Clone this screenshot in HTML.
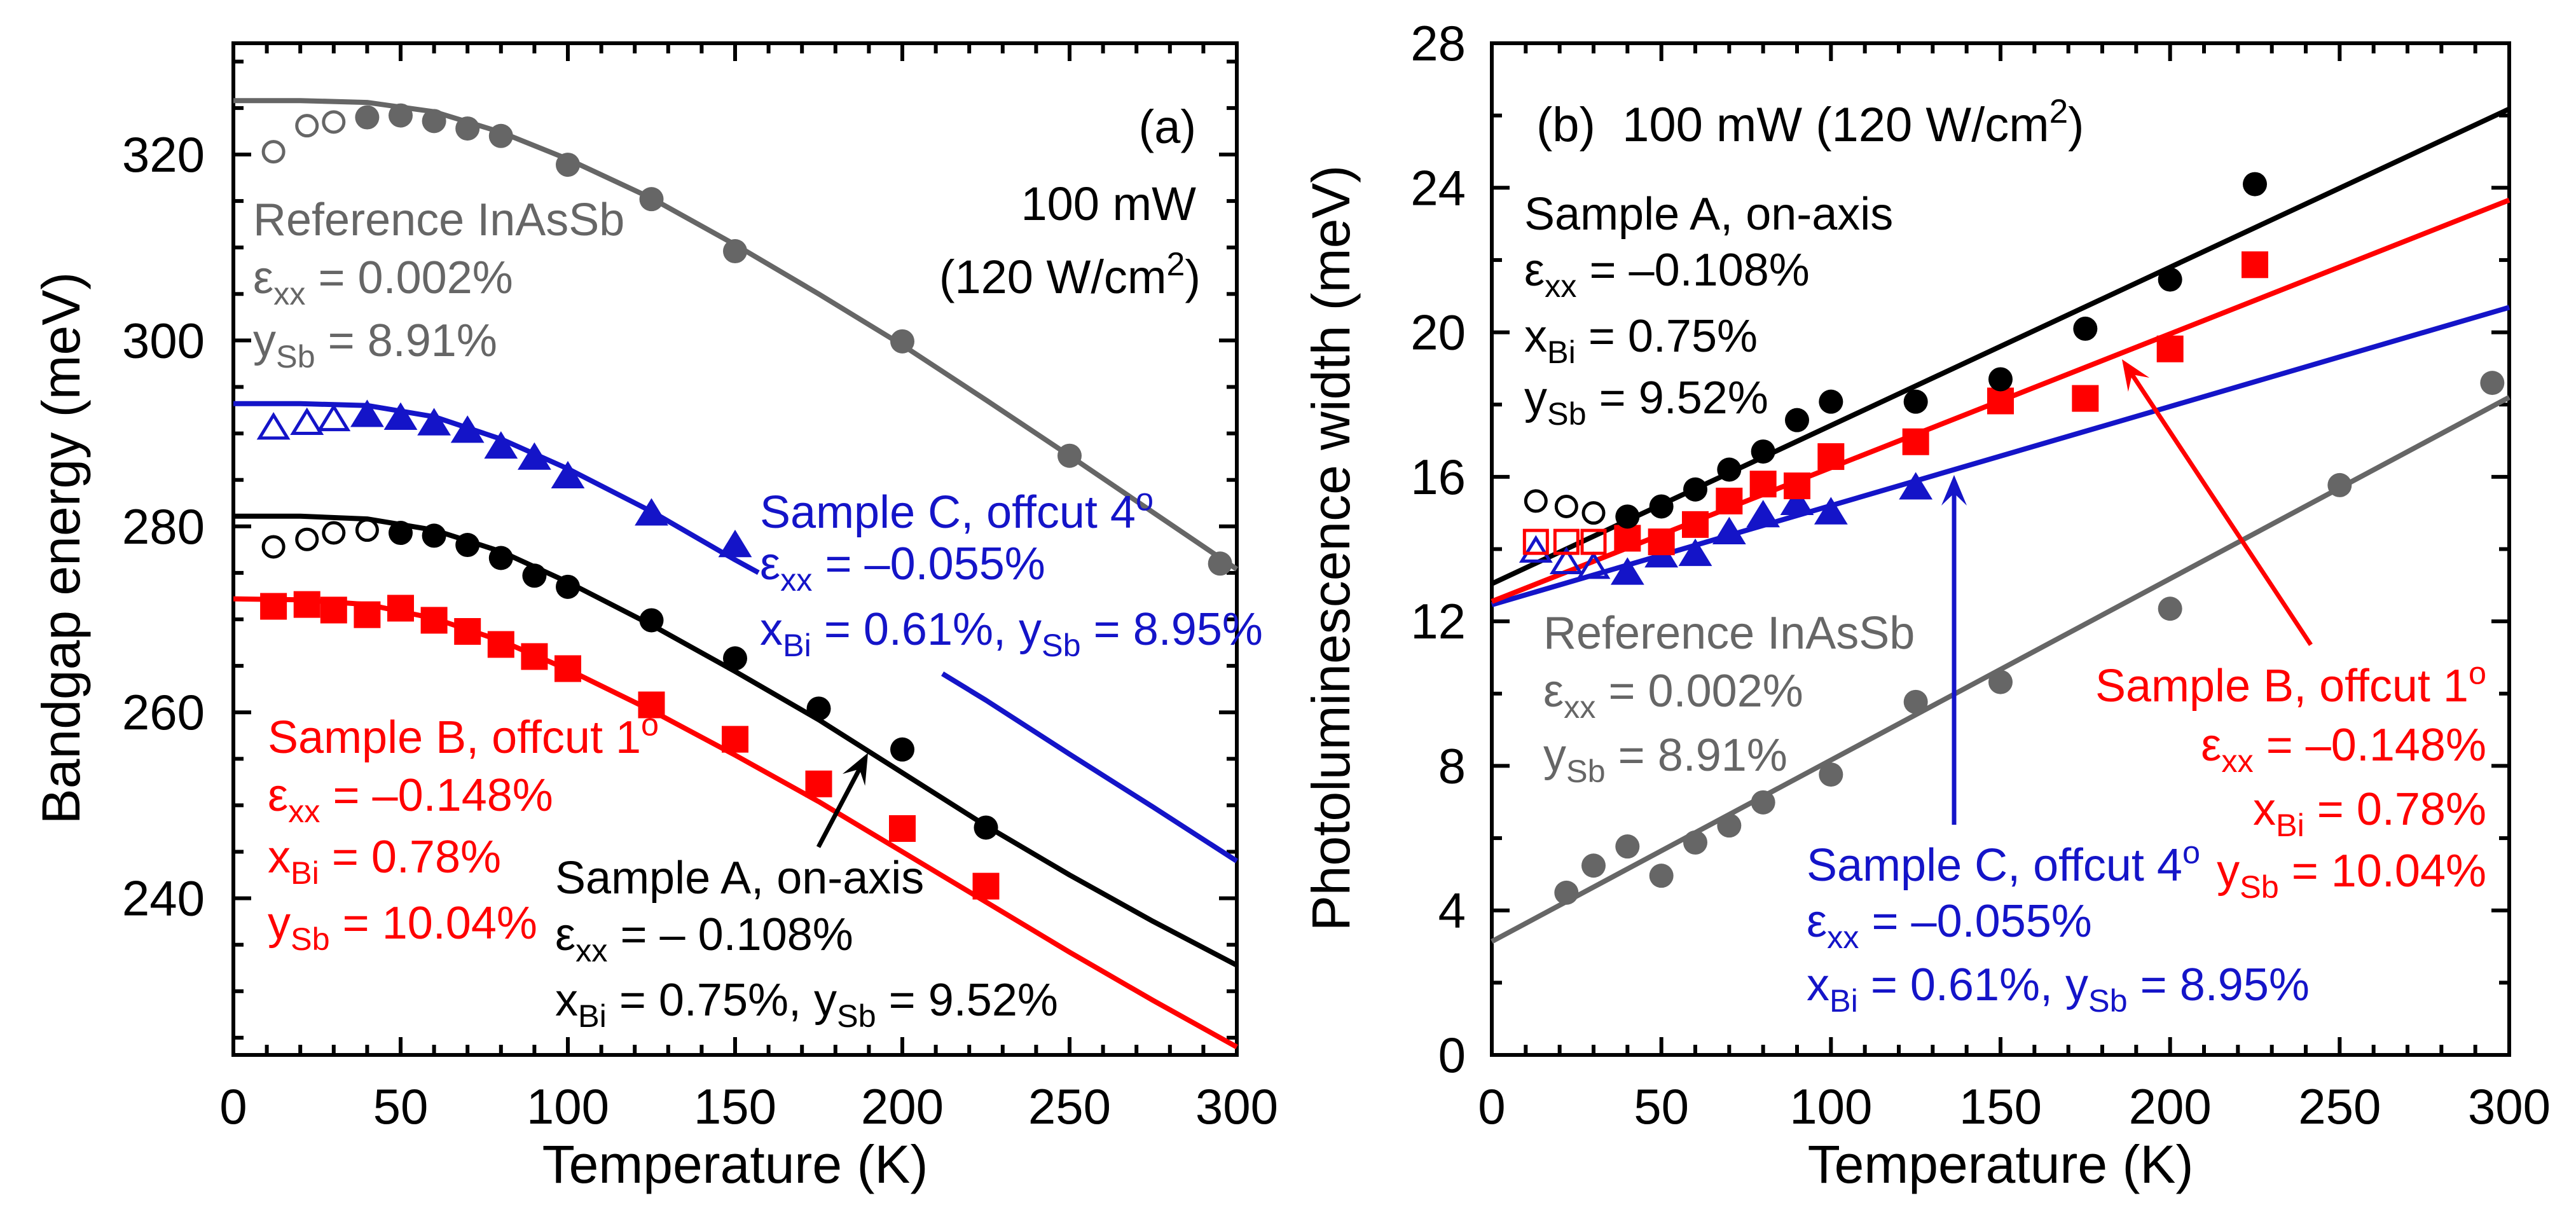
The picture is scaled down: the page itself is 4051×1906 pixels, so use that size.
<!DOCTYPE html>
<html><head><meta charset="utf-8"><style>
html,body{margin:0;padding:0;background:#fff;}
svg{display:block;font-family:"Liberation Sans",Arial,sans-serif;}
</style></head><body>
<svg id="fig" xmlns="http://www.w3.org/2000/svg" width="4051" height="1906" viewBox="0 0 4051 1906">
<rect x="0" y="0" width="4051" height="1906" fill="#fff"/>
<g id="pa"></g>
<g id="pb"></g>
</svg>
<script>
// ---------- Panel (a) data ----------
const aRefOpenT=[12,22,30];
const aRefOpenE=[320.3,323.1,323.5];
const aRefT=[40,50,60,70,80,100,125,150,200,250,295];
const aRefE=[324,324.2,323.6,322.8,322,318.9,315.2,309.6,299.9,287.6,276];
const aCOpenT=[12,22,30];
const aCOpenE=[290.6,291.1,291.5];
const aCT=[40,50,60,70,80,90,100,125,150];
const aCE=[292,291.7,291.1,290.3,288.6,287.4,285.4,281.4,278];
const aAOpenT=[12,22,30,40];
const aAOpenE=[277.8,278.6,279.3,279.6];
const aAT=[50,60,70,80,90,100,125,150,175,200,225];
const aAE=[279.3,279,278,276.6,274.7,273.5,269.9,265.8,260.4,256,247.6];
const aBT=[12,22,30,40,50,60,70,80,90,100,125,150,175,200,225];
const aBE=[271.4,271.6,271,270.5,271.2,269.9,268.7,267.3,266,264.7,260.8,257.1,252.3,247.5,241.3];
const fitT=[0,20,40,60,80,100,125,150,175,200,225,250,275,300];
const fitRef=[325.8,325.8,325.6,324.6,322.4,319.5,315.3,310.3,305,299.5,293.6,287.6,281.5,275.4];
const fitC=[293.2,293.2,293,291.8,289.4,286.2,281.6,276.4,271.5,266.8,261.3,255.5,249.8,244];
const fitA=[281.1,281.1,280.8,279.6,277.3,274,269.4,264.4,259.2,253.5,247.8,242.5,237.5,232.8];
const fitB=[272.2,272.1,271.6,270.1,267.7,264.6,260.2,255.4,250.4,245,239.6,234.2,229,224];
const aYTicks=[240,260,280,300,320];
const xTicks=[0,50,100,150,200,250,300];
// ---------- Panel (b) data ----------
const bAOpenT=[13,22,30];
const bAOpenW=[15.33,15.18,15.0];
const bAT=[40,50,60,70,80,90,100,125,150,175,200,225];
const bAW=[14.9,15.18,15.65,16.2,16.7,17.57,18.08,18.08,18.7,20.1,21.46,24.1];
const bBOpenT=[13,22,30];
const bBOpenW=[14.2,14.2,14.2];
const bBT=[40,50,60,70,80,90,100,125,150,175,200,225];
const bBW=[14.3,14.2,14.68,15.33,15.8,15.75,16.56,16.97,18.1,18.17,19.54,21.87];
const bCOpenT=[13,22,30];
const bCOpenW=[13.95,13.63,13.5];
const bCT=[40,50,60,70,80,90,100,125];
const bCW=[13.35,13.83,13.87,14.47,14.94,15.28,15.02,15.71];
const bRefT=[22,30,40,50,60,70,80,100,125,150,200,250,295];
const bRefW=[4.49,5.24,5.77,4.96,5.88,6.35,6.99,7.76,9.77,10.32,12.35,15.77,18.6];
const lineT=[0,300];
const lineA=[13.04,26.18];
const lineB=[12.55,23.66];
const lineC=[12.46,20.69];
const lineRef=[3.14,18.2];
const bYTicks=[0,4,8,12,16,20,24,28];

const NS="http://www.w3.org/2000/svg";
const GRAY="#666666", BLUE="#1414c8", RED="#ff0000", BLK="#000000";
function el(parent,tag,attrs){const e=document.createElementNS(NS,tag);for(const k in attrs)e.setAttribute(k,attrs[k]);parent.appendChild(e);return e;}

const A={xl:367,xr:1945,yt:68,yb:1659};
const ax=v=>A.xl+v/300*(A.xr-A.xl);
const ay=v=>243+(320-v)*14.62;
const B={xl:2346,xr:3946,yt:68,yb:1659};
const bx=v=>B.xl+v/300*(B.xr-B.xl);
const by=v=>B.yb-v/28*(B.yb-B.yt);

function richText(parent,x,y,parts,opts){
  const t=el(parent,'text',{x:x,y:y,'font-size':opts.size||72,fill:opts.fill||BLK,'text-anchor':opts.anchor||'start'});
  t.setAttributeNS('http://www.w3.org/XML/1998/namespace','xml:space','preserve');
  let shift=0;
  parts.forEach(p=>{
    let s=typeof p==='string'?p:p[1];
    let kind=typeof p==='string'?'n':p[0];
    const ts=document.createElementNS(NS,'tspan');
    let target=kind==='sub'?0.25:kind==='sup'?-0.38:0;
    const fs=opts.size||72;
    ts.setAttribute('dy',((target-shift)*fs).toFixed(1));
    shift=target;
    if(kind!=='n')ts.setAttribute('font-size',(fs*0.7).toFixed(1));
    ts.textContent=s;
    t.appendChild(ts);
  });
  return t;
}

function frame(g,P,sx,sy,yMinorList,yMajorList,xMinorStep,yLabels,labelX,prefix){
  const fr=el(g,'rect',{x:P.xl,y:P.yt,width:P.xr-P.xl,height:P.yb-P.yt,fill:'none',stroke:BLK,'stroke-width':6});
  
  
  for(let v=0;v<=300;v+=xMinorStep){
    const X=sx(v), major=v%50===0, L=major?28:16;
    const t1=el(g,'line',{x1:X,y1:P.yb,x2:X,y2:P.yb-L,stroke:BLK,'stroke-width':6});
    
    
    const t2=el(g,'line',{x1:X,y1:P.yt,x2:X,y2:P.yt+L,stroke:BLK,'stroke-width':6});
    
    
  }
  yMinorList.forEach(v=>{
    const Y=sy(v), major=yMajorList.includes(v), L=major?28:16;
    if(Y<P.yt-1||Y>P.yb+1)return;
    const t1=el(g,'line',{x1:P.xl,y1:Y,x2:P.xl+L,y2:Y,stroke:BLK,'stroke-width':6});
    
    
    const t2=el(g,'line',{x1:P.xr,y1:Y,x2:P.xr-L,y2:Y,stroke:BLK,'stroke-width':6});
    
    
  });
  xTicks.forEach(v=>{
    const t=el(g,'text',{x:sx(v),y:1767,'font-size':78,'text-anchor':'middle',fill:BLK});
    t.textContent=v;
    
    
  });
  yLabels.forEach(v=>{
    const t=el(g,'text',{x:labelX,y:sy(v)+27,'font-size':78,'text-anchor':'end',fill:BLK});
    t.textContent=v;
    
    
  });
  const xt=el(g,'text',{x:(P.xl+P.xr)/2,y:1860,'font-size':84,'text-anchor':'middle',fill:BLK});
  xt.textContent='Temperature (K)';
  
  
}

function polyline(g,T,V,sx,sy,color,name){
  const pts=T.map((t,i)=>sx(t).toFixed(1)+','+sy(V[i]).toFixed(1)).join(' ');
  const p=el(g,'polyline',{points:pts,fill:'none',stroke:color,'stroke-width':8,'stroke-linejoin':'round'});
  
  
  return p;
}
function markers(g,T,V,sx,sy,shape,color,filled,name){
  T.forEach((t,i)=>{
    const X=sx(t),Y=sy(V[i]);let m;
    const f=filled?color:'none', sw=filled?0:5;
    if(shape==='c') m=el(g,'circle',{cx:X,cy:Y,r:filled?19:16,fill:f,stroke:color,'stroke-width':sw});
    else if(shape==='s'){const h=filled?21:18;m=el(g,'rect',{x:X-h,y:Y-h,width:2*h,height:2*h,fill:f,stroke:color,'stroke-width':sw});}
    else {const h=filled?24:20;m=el(g,'polygon',{points:`${X},${Y-h} ${X+h*1.1},${Y+h*0.8} ${X-h*1.1},${Y+h*0.8}`,fill:f,stroke:color,'stroke-width':sw});}
    
    
  });
}
function arrow(g,x1,y1,x2,y2,color,name){
  const grp=el(g,'g',{});
  
  
  const ang=Math.atan2(y2-y1,x2-x1), L=48, W=20;
  const bx_=x2-L*Math.cos(ang), by_=y2-L*Math.sin(ang);
  el(grp,'line',{x1:x1,y1:y1,x2:x2-20*Math.cos(ang),y2:y2-20*Math.sin(ang),stroke:color,'stroke-width':7});
  const px=-Math.sin(ang)*W, py=Math.cos(ang)*W;
  const mx=x2-L*0.6*Math.cos(ang), my=y2-L*0.6*Math.sin(ang);
  el(grp,'polygon',{points:`${x2},${y2} ${bx_+px},${by_+py} ${mx},${my} ${bx_-px},${by_-py}`,fill:color});
}
function label(g,x,y,parts,opts,name){
  const t=richText(g,x,y,parts,opts);
  
  
}

// ===== Panel A =====
const ga=document.getElementById('pa');
const aMinor=[];for(let v=225;v<=330;v+=5)aMinor.push(v);
frame(ga,A,ax,ay,aMinor,aYTicks,10,aYTicks,322,'panel-a');
const ya=el(ga,'text',{x:0,y:0,'font-size':84,'text-anchor':'middle',fill:BLK,transform:'translate(125,862) rotate(-90)'});
ya.textContent='Bandgap energy (meV)';



polyline(ga,fitT,fitRef,ax,ay,GRAY,'fit-reference-a');
const cT1=[],cV1=[],cT2=[],cV2=[];
fitT.forEach((t,i)=>{if(t<=150){cT1.push(t);cV1.push(fitC[i]);} if(t>=225){cT2.push(t);cV2.push(fitC[i]);}});
cT1.push(157);cV1.push(fitC[7]+(fitC[8]-fitC[7])*7/25);
cT2.unshift(212);cV2.unshift(fitC[9]+(fitC[10]-fitC[9])*12/25);
polyline(ga,cT1,cV1,ax,ay,BLUE,'fit-sample-c-a');
polyline(ga,cT2,cV2,ax,ay,BLUE,'fit-sample-c-a-tail');
polyline(ga,fitT,fitA,ax,ay,BLK,'fit-sample-a-a');
polyline(ga,fitT,fitB,ax,ay,RED,'fit-sample-b-a');
markers(ga,aRefOpenT,aRefOpenE,ax,ay,'c',GRAY,false,'ref-open-point');
markers(ga,aRefT,aRefE,ax,ay,'c',GRAY,true,'ref-point');
markers(ga,aCOpenT,aCOpenE,ax,ay,'t',BLUE,false,'sample-c-open-point');
markers(ga,aCT,aCE,ax,ay,'t',BLUE,true,'sample-c-point');
markers(ga,aAOpenT,aAOpenE,ax,ay,'c',BLK,false,'sample-a-open-point');
markers(ga,aAT,aAE,ax,ay,'c',BLK,true,'sample-a-point');
markers(ga,aBT,aBE,ax,ay,'s',RED,true,'sample-b-point');
arrow(ga,1287,1332,1365,1184,BLK,'sample-a-arrow');

label(ga,1881,225,['(a)'],{anchor:'end',size:74},'panel-a-letter');
label(ga,1881,346,['100 mW'],{anchor:'end',size:74},'power-label-a');
label(ga,1888,461,['(120 W/cm',['sup','2'],')'],{anchor:'end',size:74},'intensity-label-a');
label(ga,398,370,['Reference InAsSb'],{fill:GRAY,size:72},'ref-label-a');
label(ga,398,461,['ε',['sub','xx'],' = 0.002%'],{fill:GRAY,size:72},'ref-strain-a');
label(ga,398,560,['y',['sub','Sb'],' = 8.91%'],{fill:GRAY,size:72},'ref-ysb-a');
label(ga,1195,830,['Sample C, offcut 4',['sup','o']],{fill:BLUE,size:72},'sample-c-label-a');
label(ga,1195,911,['ε',['sub','xx'],' = –0.055%'],{fill:BLUE,size:72},'sample-c-strain-a');
label(ga,1195,1014,['x',['sub','Bi'],' = 0.61%, y',['sub','Sb'],' = 8.95%'],{fill:BLUE,size:72},'sample-c-comp-a');
label(ga,421,1184,['Sample B, offcut 1',['sup','o']],{fill:RED,size:72},'sample-b-label-a');
label(ga,421,1275,['ε',['sub','xx'],' = –0.148%'],{fill:RED,size:72},'sample-b-strain-a');
label(ga,421,1372,['x',['sub','Bi'],' = 0.78%'],{fill:RED,size:72},'sample-b-xbi-a');
label(ga,421,1476,['y',['sub','Sb'],' = 10.04%'],{fill:RED,size:72},'sample-b-ysb-a');
label(ga,873,1405,['Sample A, on-axis'],{size:72},'sample-a-label-a');
label(ga,873,1494,['ε',['sub','xx'],' = – 0.108%'],{size:72},'sample-a-strain-a');
label(ga,873,1597,['x',['sub','Bi'],' = 0.75%, y',['sub','Sb'],' = 9.52%'],{size:72},'sample-a-comp-a');

// ===== Panel B =====
const gb=document.getElementById('pb');
const bMinor=[];for(let v=0;v<=28;v+=2)bMinor.push(v);
frame(gb,B,bx,by,bMinor,bYTicks,10,bYTicks,2305,'panel-b');
const yb=el(gb,'text',{x:0,y:0,'font-size':84,'text-anchor':'middle',fill:BLK,transform:'translate(2122,862) rotate(-90)'});
yb.textContent='Photoluminescence width (meV)';



polyline(gb,lineT,lineRef,bx,by,GRAY,'fit-reference-b');
polyline(gb,lineT,lineC,bx,by,BLUE,'fit-sample-c-b');
polyline(gb,lineT,lineB,bx,by,RED,'fit-sample-b-b');
polyline(gb,lineT,lineA,bx,by,BLK,'fit-sample-a-b');
markers(gb,bRefT,bRefW,bx,by,'c',GRAY,true,'ref-point-b');
markers(gb,bCOpenT,bCOpenW,bx,by,'t',BLUE,false,'sample-c-open-point-b');
markers(gb,bCT,bCW,bx,by,'t',BLUE,true,'sample-c-point-b');
markers(gb,bBOpenT,bBOpenW,bx,by,'s',RED,false,'sample-b-open-point-b');
markers(gb,bBT,bBW,bx,by,'s',RED,true,'sample-b-point-b');
markers(gb,bAOpenT,bAOpenW,bx,by,'c',BLK,false,'sample-a-open-point-b');
markers(gb,bAT,bAW,bx,by,'c',BLK,true,'sample-a-point-b');
arrow(gb,3073,1297,3073,747,BLUE,'sample-c-arrow-b');
arrow(gb,3634,1014,3337,565,RED,'sample-b-arrow-b');

label(gb,2416,222,['(b)\u00a0 100 mW (120 W/cm',['sup','2'],')'],{size:76},'panel-b-title');
label(gb,2397,361,['Sample A, on-axis'],{size:72},'sample-a-label-b');
label(gb,2397,449,['ε',['sub','xx'],' = –0.108%'],{size:72},'sample-a-strain-b');
label(gb,2397,553,['x',['sub','Bi'],' = 0.75%'],{size:72},'sample-a-xbi-b');
label(gb,2397,650,['y',['sub','Sb'],' = 9.52%'],{size:72},'sample-a-ysb-b');
label(gb,2427,1020,['Reference InAsSb'],{fill:GRAY,size:72},'ref-label-b');
label(gb,2427,1111,['ε',['sub','xx'],' = 0.002%'],{fill:GRAY,size:72},'ref-strain-b');
label(gb,2427,1212,['y',['sub','Sb'],' = 8.91%'],{fill:GRAY,size:72},'ref-ysb-b');
label(gb,2841,1385,['Sample C, offcut 4',['sup','o']],{fill:BLUE,size:72},'sample-c-label-b');
label(gb,2841,1473,['ε',['sub','xx'],' = –0.055%'],{fill:BLUE,size:72},'sample-c-strain-b');
label(gb,2841,1573,['x',['sub','Bi'],' = 0.61%, y',['sub','Sb'],' = 8.95%'],{fill:BLUE,size:72},'sample-c-comp-b');
label(gb,3910,1103,['Sample B, offcut 1',['sup','o']],{fill:RED,size:72,anchor:'end'},'sample-b-label-b');
label(gb,3910,1196,['ε',['sub','xx'],' = –0.148%'],{fill:RED,size:72,anchor:'end'},'sample-b-strain-b');
label(gb,3910,1297,['x',['sub','Bi'],' = 0.78%'],{fill:RED,size:72,anchor:'end'},'sample-b-xbi-b');
label(gb,3910,1394,['y',['sub','Sb'],' = 10.04%'],{fill:RED,size:72,anchor:'end'},'sample-b-ysb-b');
</script>
</body></html>
